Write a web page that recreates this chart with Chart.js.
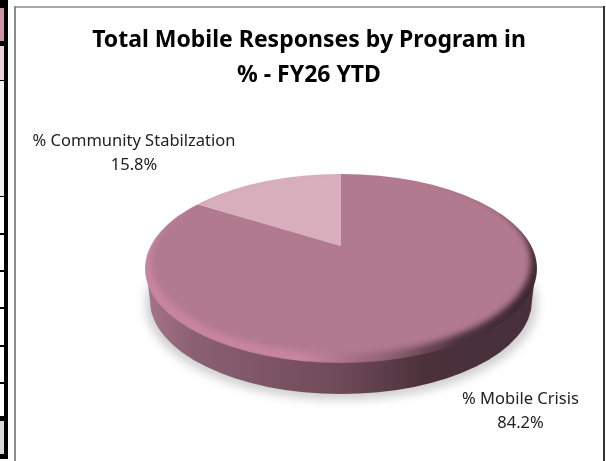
<!DOCTYPE html>
<html><head><meta charset="utf-8">
<style>
html,body{margin:0;padding:0;background:#fff;width:606px;height:461px;overflow:hidden}
.b{position:absolute}
canvas{position:absolute;left:0;top:0}
</style>
<script src="https://cdn.jsdelivr.net/npm/chart.js@4"></script>
</head><body>
<div class="b" style="left:0;top:0;width:8px;height:459px;background:#000"></div>
<div class="b" style="left:0;top:8px;width:4px;height:33px;background:#cf93a8"></div>
<div class="b" style="left:0;top:46px;width:4px;height:34px;background:#eed3dc"></div>
<div class="b" style="left:0;top:81px;width:4px;height:115px;background:#f0f0f0"></div>
<div class="b" style="left:0;top:197px;width:4px;height:36px;background:#fff"></div>
<div class="b" style="left:0;top:235px;width:4px;height:35px;background:#fff"></div>
<div class="b" style="left:0;top:272px;width:4px;height:35px;background:#fff"></div>
<div class="b" style="left:0;top:309px;width:4px;height:36px;background:#fff"></div>
<div class="b" style="left:0;top:347px;width:4px;height:35px;background:#fff"></div>
<div class="b" style="left:0;top:384px;width:4px;height:32px;background:#fff"></div>
<div class="b" style="left:0;top:421px;width:4px;height:33px;background:#d9d9d9"></div>
<div class="b" style="left:14px;top:6px;width:590px;height:2px;background:#a6a6a6"></div>
<div class="b" style="left:14px;top:6px;width:2px;height:455px;background:#8c8c8c"></div>
<div class="b" style="left:603px;top:6px;width:1.5px;height:455px;background:#333"></div>
<canvas id="c" width="606" height="461"></canvas>
<script>
const categories = ["% Mobile Crisis", "% Community Stabilzation"];
const percentValues = [84.2, 15.8];
const sliceColors = ["#b27a8f", "#d8aebc"];
const titleLines = ["Total Mobile Responses by Program in", "% - FY26 YTD"];
const labelFont = '16.5px "Noto Sans"';
const titleFont = {family: '"Noto Sans"', size: 23, weight: "bold", lineHeight: 1.52};

const face = {x: 341, y: 267.5, rx: 195, ry: 93.5, depth: 33, apexY: 246, tilt: 0.447};
const labelSpots = [{x: 520.5, y: 399}, {x: 134, y: 141}];

function ellipse(ctx, x, y, rx, ry) { ctx.beginPath(); ctx.ellipse(x, y, rx, ry, 0, 0, Math.PI * 2); }

const pie3d = {
  id: "pie3d",
  beforeDatasetsDraw(chart) {
    const ctx = chart.ctx, f = face;
    ctx.save();
    ctx.filter = "blur(5px)";
    ctx.fillStyle = "#d0d0d0";
    ellipse(ctx, f.x + 0.5, f.y + f.depth + 4, f.rx + 1, f.ry + 2);
    ctx.fill();
    ctx.filter = "none";
    const side = ctx.createLinearGradient(f.x - f.rx, 0, f.x + f.rx, 0);
    side.addColorStop(0, "#a87388");
    side.addColorStop(0.12, "#8c6073");
    side.addColorStop(0.5, "#6e4a58");
    side.addColorStop(0.72, "#4a313a");
    side.addColorStop(1, "#48303a");
    ctx.fillStyle = side;
    ctx.beginPath();
    ctx.ellipse(f.x, f.y + f.depth, f.rx - 4, f.ry, 0, 0, Math.PI);
    ctx.ellipse(f.x, f.y, f.rx, f.ry, 0, Math.PI, 0, true);
    ctx.closePath();
    ctx.fill();
    ctx.restore();

    const arc = chart.getDatasetMeta(0).data[0];
    const k = 300 / arc.outerRadius;
    ctx.save();
    ellipse(ctx, f.x, f.y, f.rx, f.ry);
    ctx.clip();
    ctx.translate(f.x, f.apexY);
    ctx.scale(k, k * f.tilt);
    ctx.translate(-arc.x, -arc.y);
  },
  afterDatasetsDraw(chart) {
    const ctx = chart.ctx, f = face;
    ctx.restore();
    ctx.save();
    ellipse(ctx, f.x, f.y + 1, f.rx + 1, f.ry + 1);
    ctx.clip();
    const rim = ctx.createLinearGradient(f.x - f.rx, 0, f.x + f.rx, 0);
    rim.addColorStop(0, "#c9859f");
    rim.addColorStop(0.4, "#c9859f");
    rim.addColorStop(0.62, "#8f6174");
    rim.addColorStop(0.8, "#4a313a");
    rim.addColorStop(1, "#3a262d");
    ctx.filter = "blur(3px)";
    ctx.fillStyle = rim;
    ctx.beginPath();
    ctx.ellipse(f.x, f.y, f.rx + 6, f.ry + 6, 0, 0, Math.PI * 2);
    ctx.ellipse(f.x, f.y - 6, f.rx - 5, f.ry - 1, 0, 0, Math.PI * 2, true);
    ctx.fill("evenodd");
    ctx.filter = "none";
    ctx.restore();
  },
  afterDraw(chart) {
    const ctx = chart.ctx;
    ctx.save();
    ctx.font = labelFont;
    ctx.fillStyle = "#222";
    ctx.textAlign = "center";
    ctx.textBaseline = "middle";
    categories.forEach((name, i) => {
      ctx.fillText(name, labelSpots[i].x, labelSpots[i].y);
      ctx.fillText(percentValues[i].toFixed(1) + "%", labelSpots[i].x, labelSpots[i].y + 24);
    });
    ctx.restore();
  }
};

new Chart(document.getElementById("c"), {
  type: "pie",
  data: {labels: categories, datasets: [{data: percentValues, backgroundColor: sliceColors, borderWidth: 0}]},
  options: {
    responsive: false,
    animation: false,
    layout: {padding: {left: 12, right: 0, top: 0, bottom: 0}},
    plugins: {
      legend: {display: false},
      tooltip: {enabled: false},
      title: {display: true, text: titleLines, color: "#000", font: titleFont, padding: {top: 23, bottom: 10}}
    }
  },
  plugins: [pie3d]
});
</script>
</body></html>
